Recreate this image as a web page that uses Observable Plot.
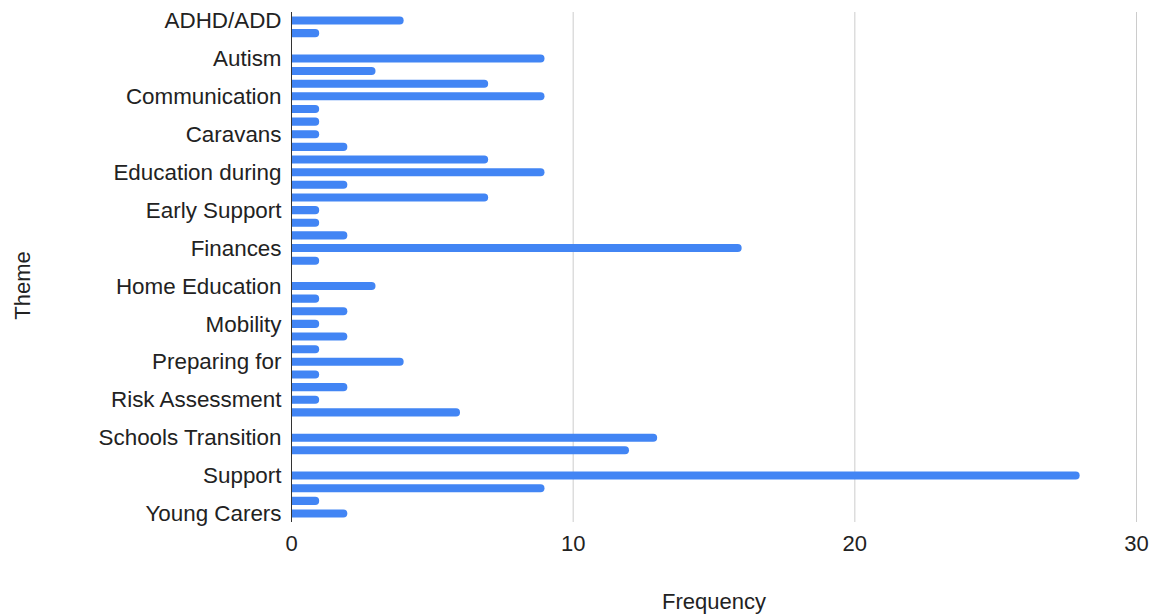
<!DOCTYPE html>
<html>
<head>
<meta charset="utf-8">
<script src="https://cdn.jsdelivr.net/npm/d3@7"></script>
<script src="https://cdn.jsdelivr.net/npm/@observablehq/plot@0.6"></script>
<style>
  html, body { margin: 0; padding: 0; background: #fff; }
  #chart svg { display: block; font-family: Arial, "Liberation Sans", sans-serif; }
</style>
</head>
<body>
<div id="chart"></div>
<script>
// One label per row; only every third theme is named on the axis.
const themeLabels = [
  "ADHD/ADD", "", "",
  "Autism", "", "",
  "Communication", "", "",
  "Caravans", "", "",
  "Education during", "", "",
  "Early Support", "", "",
  "Finances", "", "",
  "Home Education", "", "",
  "Mobility", "", "",
  "Preparing for", "", "",
  "Risk Assessment", "", "",
  "Schools Transition", "", "",
  "Support", "", "",
  "Young Carers"
];

// Frequency of each theme row, top to bottom.
const frequency = [
  4, 1, 0,
  9, 3, 7,
  9, 1, 1,
  1, 2, 7,
  9, 2, 7,
  1, 1, 2,
  16, 1, 0,
  3, 1, 2,
  1, 2, 1,
  4, 1, 2,
  1, 6, 0,
  13, 12, 0,
  28, 9, 1,
  2
];

const xTicks = [0, 10, 20, 30];
const gridTicks = [10, 20, 30];

const rows = frequency.map((value, i) => ({row: i, frequency: value}));
const rowIndex = themeLabels.map((_, i) => i);

const chart = Plot.plot({
  width: 1156,
  height: 614,
  marginLeft: 291,
  marginRight: 20,
  marginTop: 12,
  marginBottom: 92,
  style: {fontFamily: 'Arial, "Liberation Sans", sans-serif', color: "#222", background: "#fff"},
  x: {domain: [0, 30]},
  y: {domain: rowIndex, paddingInner: 0, paddingOuter: 0.17, round: false},
  marks: [
    Plot.gridX(gridTicks, {stroke: "#cccccc", strokeOpacity: 1, strokeWidth: 1}),
    Plot.barX(rows, {
      x1: 0,
      x2: "frequency",
      y: "row",
      fill: "#4285f4",
      rx: 4,
      insetLeft: -6,
      insetTop: 2.3,
      insetBottom: 2.3,
      clip: true
    }),
    Plot.ruleX([0], {stroke: "#333", strokeWidth: 1}),
    Plot.axisX({
      ticks: xTicks,
      tickSize: 0,
      tickPadding: 13,
      fontSize: 22,
      label: null
    }),
    Plot.axisY({
      ticks: rowIndex,
      tickFormat: i => themeLabels[i],
      tickSize: 0,
      tickPadding: 10,
      fontSize: 22.4,
      label: null
    }),
    Plot.text(["Frequency"], {
      frameAnchor: "bottom",
      lineAnchor: "middle",
      textAnchor: "middle",
      dy: 79,
      fontSize: 22,
      fill: "#222"
    }),
    Plot.text(["Theme"], {
      frameAnchor: "left",
      textAnchor: "middle",
      lineAnchor: "middle",
      rotate: -90,
      dx: -269,
      dy: 18,
      fontSize: 22,
      fill: "#222"
    })
  ]
});

document.getElementById("chart").appendChild(chart);
</script>
</body>
</html>
